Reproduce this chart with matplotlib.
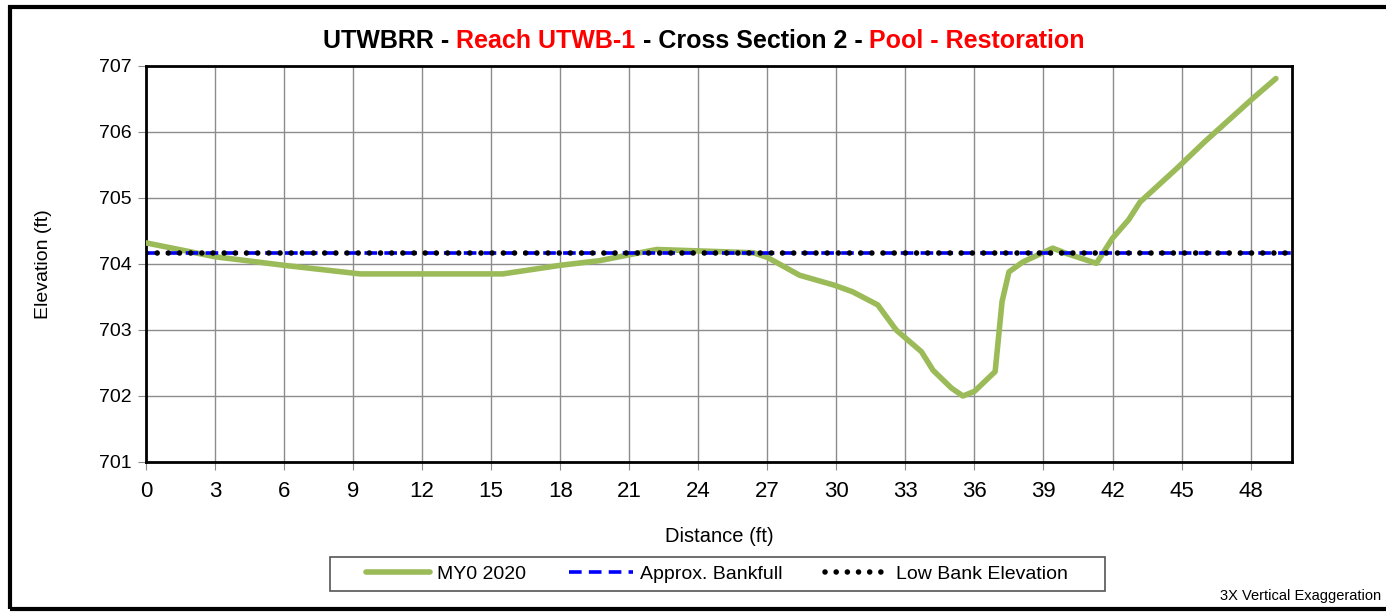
import matplotlib
matplotlib.use('Agg')
import matplotlib.pyplot as plt
from matplotlib.patches import Rectangle
from matplotlib.offsetbox import TextArea, HPacker, AnchoredOffsetbox

plt.rcParams['font.family'] = ['Liberation Sans', 'DejaVu Sans']

# survey data
station = [0.0, 3.0, 6.0, 9.3, 15.5, 18.0, 19.7, 21.0, 22.2, 26.4, 27.0,
           28.4, 29.9, 30.7, 31.8, 32.6, 33.7, 34.2, 35.0, 35.5, 36.0,
           36.9, 37.2, 37.5, 38.1, 39.4, 40.0, 41.3, 42.0, 42.7, 43.2,
           44.8, 46.0, 48.1, 49.1]
elev = [704.32, 704.11, 703.98, 703.85, 703.85, 703.98, 704.05, 704.14, 704.22, 704.17, 704.10,
        703.83, 703.68, 703.58, 703.38, 703.00, 702.67, 702.39, 702.12, 702.00, 702.07,
        702.37, 703.43, 703.88, 704.03, 704.24, 704.16, 704.01, 704.39, 704.67, 704.94,
        705.45, 705.85, 706.51, 706.81]
bankfull = 704.16
low_bank = 704.16
x_range = [0, 49.8]

fig = plt.figure(figsize=(13.86, 6.13), dpi=100)
ax = fig.add_axes([146/1386, 1-462/613, (1292-146)/1386, (462-66)/613])

# outer chart border
fig.patches.append(Rectangle((10/1386, 4/613), 1.1, 1-11/613, transform=fig.transFigure,
                             fill=False, edgecolor='black', linewidth=3, zorder=10))

ax.plot(station, elev, color='#9BBB59', linewidth=4, solid_capstyle='round',
        solid_joinstyle='round', label='MY0 2020', zorder=3)
ax.plot(x_range, [bankfull, bankfull], color='#0000FF', linewidth=2.6,
        linestyle=(0, (3.5, 2)), label='Approx. Bankfull', zorder=4)
ax.plot(x_range, [low_bank, low_bank], color='black', linewidth=4,
        linestyle=(0, (0.01, 2.0)), dash_capstyle='round', label='Low Bank Elevation', zorder=5)

ax.set_xlim(x_range)
ax.set_ylim(701, 707)
ax.set_xticks(range(0, 49, 3))
ax.set_yticks(range(701, 708))
ax.grid(True, color='#8c8c8c', linewidth=1)
ax.set_axisbelow(True)
ax.tick_params(axis='x', labelsize=16, length=6, color='#8c8c8c', pad=8)
ax.tick_params(axis='y', labelsize=14, length=6, color='#8c8c8c', pad=4)
for s in ax.spines.values():
    s.set_linewidth(2)
ax.set_xlabel('Distance (ft)', fontsize=14.5, labelpad=18)
ax.set_ylabel('Elevation (ft)', fontsize=14, labelpad=34)

# title in two colours
parts = [('UTWBRR - ', 'black'), ('Reach UTWB-1', 'red'), (' - Cross Section 2 - ', 'black'),
         ('Pool - Restoration', 'red')]
boxes = [TextArea(t, textprops=dict(color=c, fontsize=18, fontweight='bold')) for t, c in parts]
title = AnchoredOffsetbox(loc='center', child=HPacker(children=boxes, pad=0, sep=0),
                          frameon=False, bbox_to_anchor=(704/1386, 1-41/613),
                          bbox_transform=fig.transFigure, pad=0, borderpad=0)
fig.add_artist(title)

leg = fig.legend(loc='center', bbox_to_anchor=(717/1386, 1-574/613), ncol=3, fontsize=14,
                 frameon=False, handlelength=3.3,
                 columnspacing=2.2, borderpad=0.3, handletextpad=0.35)
# wider legend box like the original
fig.patches.append(Rectangle((330/1386, 1-591/613), 775/1386, 34/613, transform=fig.transFigure,
                             fill=False, edgecolor='#555555', linewidth=1.2, zorder=9))

fig.text(1220/1386, 1-596/613, '3X Vertical Exaggeration', fontsize=10.5, va='center', ha='left')

fig.savefig('out.png', dpi=100)
